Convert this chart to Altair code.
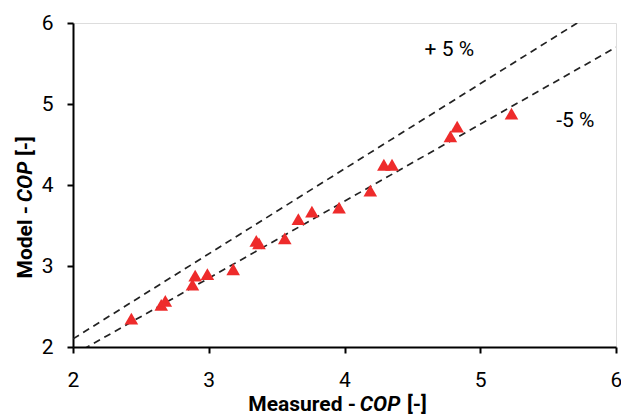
import altair as alt
import pandas as pd

# Measured vs model COP
measured = [2.43, 2.65, 2.68, 2.88, 2.90, 2.99, 3.18, 3.35, 3.37, 3.56, 3.66, 3.76,
            3.96, 4.19, 4.29, 4.35, 4.78, 4.83, 5.23]
model = [2.35, 2.52, 2.57, 2.77, 2.88, 2.90, 2.96, 3.31, 3.28, 3.34, 3.58, 3.67,
         3.72, 3.93, 4.25, 4.25, 4.60, 4.72, 4.88]

band_names = ["+5", "-5"]
band_factors = [1.05, 0.95]
line_x = [2.0, 6.0]

ann_text = ["+ 5 %", "-5 %"]
ann_x = [4.59, 5.56]
ann_y = [5.67, 4.79]

ticks = [2, 3, 4, 5, 6]

FONT = "Roboto"

pts = pd.DataFrame({"measured": measured, "model": model})
lines = pd.DataFrame([
    {"band": b, "x": x, "y": f * x}
    for b, f in zip(band_names, band_factors) for x in line_x
])
ann = pd.DataFrame({"t": ann_text, "x": ann_x, "y": ann_y})

xs = alt.Scale(domain=[2, 6], nice=False, zero=False)
ys = alt.Scale(domain=[2, 6], nice=False, zero=False)

xaxis = alt.Axis(values=ticks, title=None, grid=False, labelFont=FONT, labelFontSize=21,
                 labelColor="black", domainColor="black", domainWidth=2, tickColor="black",
                 tickWidth=2, tickSize=6, labelPadding=16, format="d", labelFlush=False)
yaxis = alt.Axis(values=ticks, title=None, grid=False, labelFont=FONT, labelFontSize=21,
                 labelColor="black", domainColor="black", domainWidth=2, tickColor="black",
                 tickWidth=2, tickSize=6, labelPadding=14, format="d", labelFlush=False)

line_layer = alt.Chart(lines).mark_line(
    color="#222222", strokeDash=[7, 5], strokeWidth=1.7, clip=True
).encode(
    x=alt.X("x:Q", scale=xs, axis=xaxis),
    y=alt.Y("y:Q", scale=ys, axis=yaxis),
    detail="band:N",
)

pt_layer = alt.Chart(pts).mark_point(
    shape="triangle-up", filled=True, color="#ee2b2b", opacity=1, size=185
).encode(
    x=alt.X("measured:Q", scale=xs),
    y=alt.Y("model:Q", scale=ys),
)

ann_layer = alt.Chart(ann).mark_text(
    font=FONT, fontSize=21, align="left", baseline="middle", color="black"
).encode(
    x=alt.X("x:Q", scale=xs),
    y=alt.Y("y:Q", scale=ys),
    text="t:N",
)

# axis titles with italic COP
title_bits = pd.DataFrame({"i": [0]})
def tmark(text, x, y, align, italic=False, angle=0):
    kw = dict(font=FONT, fontSize=21, fontWeight="bold", align=align,
              baseline="alphabetic", color="black", text=text)
    if italic:
        kw["fontStyle"] = "italic"
    if angle:
        kw["angle"] = angle
    return alt.Chart(title_bits).mark_text(**kw).encode(x=alt.value(x), y=alt.value(y))

titles = [
    tmark("Measured -", 283, 388, "right"),
    tmark("COP", 307, 388, "center", italic=True),
    tmark("[-]", 334, 388, "left"),
    tmark("Model -", -41, 183, "right", angle=270),
    tmark("COP", -41, 159, "center", italic=True, angle=270),
    tmark("[-]", -41, 133, "left", angle=270),
]

chart = alt.layer(line_layer, pt_layer, ann_layer, *titles).properties(
    width=543, height=324,
    autosize=alt.AutoSizeParams(type="none"),
    padding={"left": 73, "top": 23, "right": 5, "bottom": 70},
).configure_view(stroke="black", strokeWidth=2).configure(background="white")

chart.save("out.html", embed_options={"renderer": "svg", "actions": False})
